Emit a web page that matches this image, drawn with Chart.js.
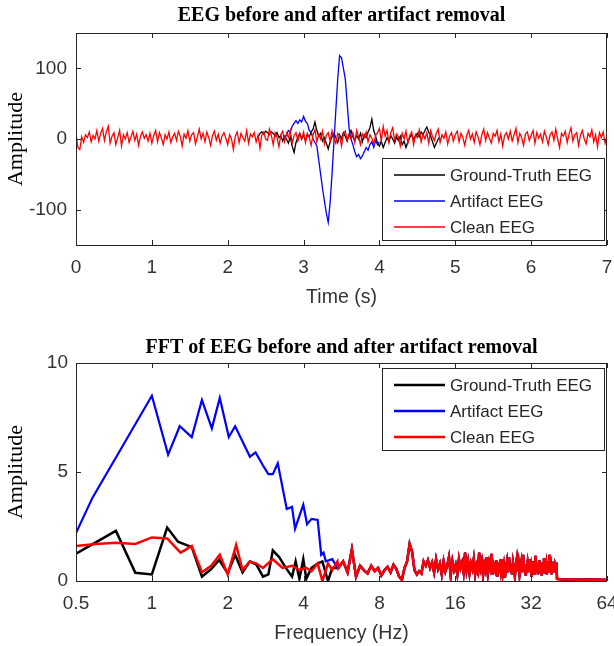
<!DOCTYPE html>
<html><head><meta charset="utf-8">
<script src="https://cdn.jsdelivr.net/npm/chart.js@4/dist/chart.umd.min.js"></script>
<style>
html,body{margin:0;padding:0;background:#fff;}
#wrap{position:relative;width:614px;height:646px;overflow:hidden;background:#fff;}
canvas{position:absolute;left:0;}
#c1{top:0;}
#c2{top:320px;}
</style></head><body>
<div id="wrap"><canvas id="c1" width="614" height="320"></canvas><canvas id="c2" width="614" height="326"></canvas></div>
<script>
// ---------------- DATA: time domain (seconds) ----------------
const seriesLabels = ['Ground-Truth EEG', 'Artifact EEG', 'Clean EEG'];
const timeStep = 0.025;
const timeTicks = [0, 1, 2, 3, 4, 5, 6, 7];
const amplitudeTicks = [-100, 0, 100];

// Clean EEG, t = 0 .. 7 s
const cleanStart = 0;
const cleanEEG = [
 8,-12,-15,3,-5,6,2,10,-4,5, 0,12,-3,8,15,-2,10,18,-6,4, 9,-8,2,12,-10,6,0,9,-5,3, 11,-2,7,-9,4,10,1,6,-3,8,
 -6,5,12,-4,9,2,-8,6,0,10, -5,3,8,-2,11,4,-10,7,1,12, -3,6,9,-7,3,14,0,8,-4,10, 2,-9,5,11,-2,7,-6,4,9,1,
 -8,6,0,-15,4,10,-5,8,2,-3, 12,-6,7,3,9,-4,5,-13,6,10, 0,-2,14,5,-8,9,3,-11,6,11, -4,8,2,12,-6,5,9,-3,7,0,
 10,-5,8,2,-9,6,13,-4,7,0, 11,-7,5,9,-3,12,1,-6,8,4, -10,7,11,-2,6,0,9,-5,12,3, -8,7,2,10,-4,6,1,-7,5,9,
 15,-3,18,4,12,-5,9,16,-2,7, 3,-10,8,0,11,-6,5,10,-8,6, 2,13,-4,7,0,9,-6,12,3,-2, 8,14,-5,6,1,10,-7,4,9,-3,
 6,11,-4,8,2,-9,5,12,0,7, -5,10,3,-8,6,14,-2,9,1,-6, 8,4,12,-4,7,-10,5,9,0,11, -3,6,15,-5,8,2,-9,7,10,-2,
 5,12,-6,9,1,7,-4,11,3,-8, 6,10,-2,14,0,-12,8,4,11,-5, 7,16,-3,6,9,-9,5,12,0,-7, 8,3,13,-4,6,-11,9,2,10,-6,
 4
];

// Ground-truth EEG where it departs from the clean trace, t = 2.4 .. 4.8 s
const truthStart = 2.4;
const truthEEG = [
 3,8,10,7,11,9,6,10,8,4, 9,2,5,-3,4,0,-6,3,-10,-19,
 -5,2,8,0,5,-2,6,3,10,14, 24,12,4,8,-3,2,-6,-14,-4,3,
 8,2,-5,6,0,9,4,-3,7,12, 3,-2,5,0,8,-4,6,2,10,16,
 28,12,4,-6,-10,-3,-12,-5,2,-4, 5,0,-6,3,-2,4,-8,-3,-12,-4,
 2,6,0,4,8,3,10,6,12,17, 10,4,-4,-12,-6,0,3
];

// Artifact EEG, t = 2.75 .. 4.0 s
const artifactStart = 2.75;
const artifactEEG = [
 2,6,12,10,18,22,26,22,27,24,
 32,25,22,12,10,0,-5,-10,-30,-50,
 -70,-88,-105,-118,-90,-50,-5,40,85,118,
 115,100,85,50,15,0,-8,-18,-25,-22,
 -28,-24,-18,-12,-16,-8,-4,-12,-2,-8,
 -4
];

// ---------------- DATA: frequency domain (Hz) ----------------
const freqTicks = [0.5, 1, 2, 4, 8, 16, 32, 64];
const freqTickLabels = ['0.5', '1', '2', '4', '8', '16', '32', '64'];
const fftAmpTicks = [0, 5, 10];

const truthLowFreq = [0.5,0.72,0.86,1.0,1.15,1.27,1.44,1.58,1.72,1.85,2.0,2.14,2.29,2.45,2.6,2.76,2.9,3.02,3.2,3.4,3.6,3.72,3.85,3.99,4.1,4.3,4.55,4.75,5.0,5.2,5.45];
const truthLowAmp  = [1.25,2.3,0.38,0.3,2.45,1.8,1.55,0.2,0.55,0.97,0.35,1.2,0.4,0.9,0.75,0.2,0.3,1.4,1.1,0.6,0.2,0.9,0.1,1.0,0.1,0.6,0.8,0.9,0.0,0.6,0.6];

const artifactLowFreq = [0.5,0.58,1.0,1.16,1.29,1.44,1.58,1.73,1.86,2.02,2.14,2.29,2.45,2.58,2.76,2.9,3.02,3.16,3.43,3.6,3.7,3.99,4.13,4.3,4.55,4.7,4.8,4.9,5.2,5.45];
const artifactLowAmp  = [2.2,3.8,8.5,5.8,7.1,6.6,8.3,7.0,8.4,6.6,7.1,6.4,5.7,5.9,5.3,4.9,4.9,5.4,3.3,3.4,2.4,3.5,2.6,2.85,2.8,1.2,1.3,0.9,1.0,0.6];

const cleanLowFreq = [0.5,0.6,0.72,0.86,1.0,1.15,1.3,1.44,1.58,1.72,1.86,2.0,2.16,2.29,2.45,2.6,2.76,3.02,3.3,3.6,3.85,4.1,4.3,4.55,4.75,5.0,5.2,5.45];
const cleanLowAmp  = [1.6,1.7,1.75,1.7,2.0,1.95,1.3,1.6,0.4,0.7,1.2,0.3,1.65,0.5,0.9,0.8,0.6,1.0,0.6,0.7,0.5,0.6,0.45,0.8,0.0,0.8,0.5,0.9];

// Shared band above ~5.5 Hz (all three traces coincide here)
const tailStart = 5.5;
const tailStep = 0.24;
const tailAmp = [
 0.6,0.9,0.4,1.45,0.2,0.7,0.5,0.35,0.7,0.45, 0.6,0.25,0.5,0.65,0.4,0.75,0.55,0.2,0.05,0.6,
 0.9,1.7,1.35,0.5,0.3,0.45,0.35,0.9,0.7,0.95, 0.6,0.85,0.4,1.0,0.55,0.8,0.3,0.9,0.45,0.7,
 1.1,0.25,0.9,0.5,0.75,0.3,1.0,0.6,0.85,0.4, 1.3,0.5,0.9,0.35,0.8,0.55,1.0,0.3,0.7,0.45,
 1.3,0.6,0.9,0.25,0.75,0.5,1.1,0.4,0.85,0.6, 1.25,0.3,0.7,0.5,0.95,0.2,0.65,0.8,0.45,1.0,
 0.35,0.7,0.15,0.6,0.9,0.4,1.1,0.5,0.75,0.3, 0.85,0.55,0.2,0.7,1.0,0.45,0.8,0.3,0.65,0.9,
 0.4,1.2,0.5,0.75,0.25,0.6,0.85,0.4,1.0,0.5, 0.7,0.2,0.6,0.9,0.35,0.75,1.15,0.45,0.8,0.3,
 0.6,0.95,0.4,0.7,0.25,0.85,0.5,1.05,0.35,0.6, 0.8,0.3,0.9,0.45,0.7,1.2,0.4,0.65,0.3,0.8,
 0.5,0.9,0.4,0.7,0.55,0.85,0.1
];
const endFreq = [41.5, 48, 56, 64];
const endAmp  = [0.08, 0.06, 0.07, 0.05];

// ---------------- helpers ----------------
function timeSeries(start, values) {
  return values.map((v, i) => ({ x: +(start + i * timeStep).toFixed(4), y: v }));
}
function fftSeries(lf, la) {
  const pts = lf.map((f, i) => ({ x: f, y: la[i] }));
  tailAmp.forEach((v, i) => pts.push({ x: tailStart + i * tailStep, y: v }));
  endFreq.forEach((f, i) => pts.push({ x: f, y: endAmp[i] }));
  return pts;
}

const COLORS = ['#000000', '#0000ff', '#ff0000'];
const SANS = "'Liberation Sans', Arial, Helvetica, sans-serif";
const SERIF = "'Liberation Serif', 'Times New Roman', serif";

// Box with inward ticks on all sides (MATLAB-like axes)
const boxAxes = {
  id: 'boxAxes',
  afterDatasetsDraw(chart) {
    const ctx = chart.ctx, ca = chart.chartArea;
    const xs = chart.scales.x, ys = chart.scales.y;
    const L = 5;
    ctx.save();
    ctx.strokeStyle = '#262626';
    ctx.lineWidth = 1;
    ctx.beginPath();
    xs.ticks.forEach(t => {
      const px = Math.round(xs.getPixelForValue(t.value)) + 0.5;
      ctx.moveTo(px, ca.bottom); ctx.lineTo(px, ca.bottom - L);
      ctx.moveTo(px, ca.top); ctx.lineTo(px, ca.top + L);
    });
    ys.ticks.forEach(t => {
      const py = Math.round(ys.getPixelForValue(t.value)) + 0.5;
      ctx.moveTo(ca.left, py); ctx.lineTo(ca.left + L, py);
      ctx.moveTo(ca.right, py); ctx.lineTo(ca.right - L, py);
    });
    ctx.stroke();
    ctx.strokeRect(Math.round(ca.left) + 0.5, Math.round(ca.top) + 0.5,
                   Math.round(ca.right - ca.left) - 1, Math.round(ca.bottom - ca.top));
    ctx.restore();
  }
};

// Boxed legend inside the plot area
const boxLegend = {
  id: 'boxLegend',
  afterDraw(chart, args, opts) {
    const ctx = chart.ctx, ca = chart.chartArea;
    const w = 222, h = 82;
    const x = ca.right - 3 - w;
    const y = opts.corner === 'se' ? ca.bottom - 5 - h : ca.top + 5;
    ctx.save();
    ctx.fillStyle = '#ffffff';
    ctx.fillRect(x, y, w, h);
    ctx.strokeStyle = '#262626';
    ctx.lineWidth = 1;
    ctx.strokeRect(Math.round(x) + 0.5, Math.round(y) + 0.5, w, h);
    ctx.font = '17px ' + SANS;
    ctx.textBaseline = 'middle';
    ctx.textAlign = 'left';
    chart.data.datasets.forEach((ds, i) => {
      const ry = y + 17 + i * 26;
      ctx.strokeStyle = ds.borderColor;
      ctx.lineWidth = opts.lineWidth;
      ctx.beginPath();
      ctx.moveTo(x + 12, ry); ctx.lineTo(x + 63, ry);
      ctx.stroke();
      ctx.fillStyle = '#262626';
      ctx.fillText(ds.label, x + 68, ry + 1);
    });
    ctx.restore();
  }
};

function makeChart(canvas, cfg) {
  return new Chart(canvas, {
    type: 'line',
    data: { datasets: cfg.datasets },
    options: {
      responsive: false,
      animation: false,
      devicePixelRatio: 1,
      parsing: false,
      normalized: true,
      elements: { point: { radius: 0 }, line: { tension: 0 } },
      layout: { padding: { left: 0, right: 7, top: 0, bottom: 0 } },
      plugins: {
        legend: { display: false },
        tooltip: { enabled: false },
        title: {
          display: true, text: cfg.title, fullSize: false, color: '#000',
          font: { family: SERIF, size: 20, weight: 'bold', lineHeight: 1.2 },
          padding: cfg.titlePad
        },
        boxLegend: { corner: cfg.corner, lineWidth: cfg.legendLine }
      },
      scales: {
        x: cfg.xScale,
        y: cfg.yScale
      }
    },
    plugins: [boxAxes, boxLegend]
  });
}

// ---------------- top chart ----------------
makeChart(document.getElementById('c1'), {
  title: 'EEG before and after artifact removal',
  titlePad: { top: 4, bottom: 5 },
  corner: 'se',
  legendLine: 1.3,
  datasets: [
    { label: seriesLabels[0], data: timeSeries(truthStart, truthEEG), borderColor: COLORS[0], borderWidth: 1.3, order: 3 },
    { label: seriesLabels[1], data: timeSeries(artifactStart, artifactEEG), borderColor: COLORS[1], borderWidth: 1.3, order: 2 },
    { label: seriesLabels[2], data: timeSeries(cleanStart, cleanEEG), borderColor: COLORS[2], borderWidth: 1.3, order: 1 }
  ],
  xScale: {
    type: 'linear', min: 0, max: 7,
    afterBuildTicks: s => { s.ticks = timeTicks.map(v => ({ value: v })); },
    afterFit: s => { s.height = 75; s.paddingLeft = 0; s.paddingRight = 0; },
    grid: { display: false, drawTicks: false },
    border: { display: false },
    ticks: { color: '#333', padding: 11, maxRotation: 0, font: { family: SANS, size: 19 }, callback: v => String(v) },
    title: { display: true, text: 'Time (s)', color: '#333', font: { family: SANS, size: 19.5 }, padding: { top: 0, bottom: 11 } }
  },
  yScale: {
    type: 'linear', min: -150, max: 150,
    afterBuildTicks: s => { s.ticks = amplitudeTicks.map(v => ({ value: v })); },
    afterFit: s => { s.width = 76; s.paddingTop = 0; s.paddingBottom = 0; },
    grid: { display: false, drawTicks: false },
    border: { display: false },
    ticks: { color: '#333', padding: 9, font: { family: SANS, size: 19 }, callback: v => String(v) },
    title: { display: true, text: 'Amplitude', color: '#000', font: { family: SERIF, size: 22 }, padding: { top: 3, bottom: 0 } }
  }
});

// ---------------- bottom chart ----------------
makeChart(document.getElementById('c2'), {
  title: 'FFT of EEG before and after artifact removal',
  titlePad: { top: 16, bottom: 3 },
  corner: 'ne',
  legendLine: 2.6,
  datasets: [
    { label: seriesLabels[0], data: fftSeries(truthLowFreq, truthLowAmp), borderColor: COLORS[0], borderWidth: 2.5, order: 3 },
    { label: seriesLabels[1], data: fftSeries(artifactLowFreq, artifactLowAmp), borderColor: COLORS[1], borderWidth: 2.2, order: 2 },
    { label: seriesLabels[2], data: fftSeries(cleanLowFreq, cleanLowAmp), borderColor: COLORS[2], borderWidth: 2.5, order: 1 }
  ],
  xScale: {
    type: 'logarithmic', min: 0.5, max: 64,
    afterBuildTicks: s => { s.ticks = freqTicks.map(v => ({ value: v })); },
    afterFit: s => { s.height = 65; s.paddingLeft = 0; s.paddingRight = 0; },
    grid: { display: false, drawTicks: false },
    border: { display: false },
    ticks: { color: '#333', padding: 11, maxRotation: 0, autoSkip: false, font: { family: SANS, size: 19 },
             callback: (v, i) => freqTickLabels[i] },
    title: { display: true, text: 'Frequency (Hz)', color: '#333', font: { family: SANS, size: 19.5 }, padding: { top: 0, bottom: 1 } }
  },
  yScale: {
    type: 'linear', min: 0, max: 10,
    afterBuildTicks: s => { s.ticks = fftAmpTicks.map(v => ({ value: v })); },
    afterFit: s => { s.width = 76; s.paddingTop = 0; s.paddingBottom = 0; },
    grid: { display: false, drawTicks: false },
    border: { display: false },
    ticks: { color: '#333', padding: 8, font: { family: SANS, size: 19 }, callback: v => String(v) },
    title: { display: true, text: 'Amplitude', color: '#000', font: { family: SERIF, size: 22 }, padding: { top: 3, bottom: 0 } }
  }
});
</script>
</body></html>
